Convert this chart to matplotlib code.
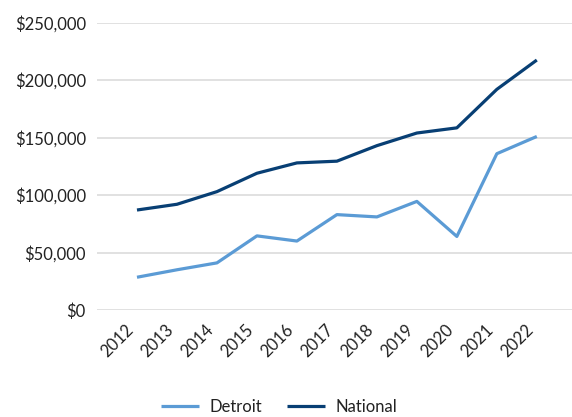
import matplotlib
matplotlib.use("Agg")
import matplotlib.pyplot as plt
from matplotlib.ticker import FuncFormatter

# Values
years = ["2012", "2013", "2014", "2015", "2016", "2017", "2018", "2019", "2020", "2021", "2022"]
detroit = [28500, 35000, 41000, 64500, 60000, 83000, 81000, 94500, 64000, 136000, 151000]
national = [87000, 92000, 103000, 119000, 128000, 129500, 143000, 154000, 158500, 192000, 217500]

plt.rcParams["font.family"] = ["Lato", "DejaVu Sans"]

fig = plt.figure(figsize=(5.72, 4.17), dpi=100)
ax = fig.add_axes([97 / 572, 1 - 310 / 417, 1 - 97 / 572, (310 - 22.7) / 417])

x = list(range(len(years)))
ax.plot(x, detroit, color="#5B9BD5", linewidth=2.3, label="Detroit", solid_capstyle="butt")
ax.plot(x, national, color="#083F74", linewidth=2.3, label="National", solid_capstyle="butt")

ax.set_ylim(0, 250000)
ax.set_yticks(range(0, 250001, 50000))
ax.yaxis.set_major_formatter(FuncFormatter(lambda v, p: f"${v:,.0f}"))
ax.set_xlim(-1, 10.88)
ax.set_xticks(x)
ax.set_xticklabels(years, rotation=45, ha="right", va="top")

ax.grid(axis="y", color="#D9D9D9", linewidth=1.1)
ax.set_axisbelow(True)
for s in ax.spines.values():
    s.set_visible(False)
ax.tick_params(axis="both", length=0, labelsize=12, colors="#222222")
ax.tick_params(axis="y", pad=8)
ax.tick_params(axis="x", pad=8)

fig.legend(loc="center", bbox_to_anchor=(0.488, 10 / 417), ncol=2, frameon=False,
           fontsize=12, handlelength=2.3, columnspacing=1.5, handletextpad=0.6,
           labelcolor="#222222")

fig.savefig("out.png", dpi=100)
